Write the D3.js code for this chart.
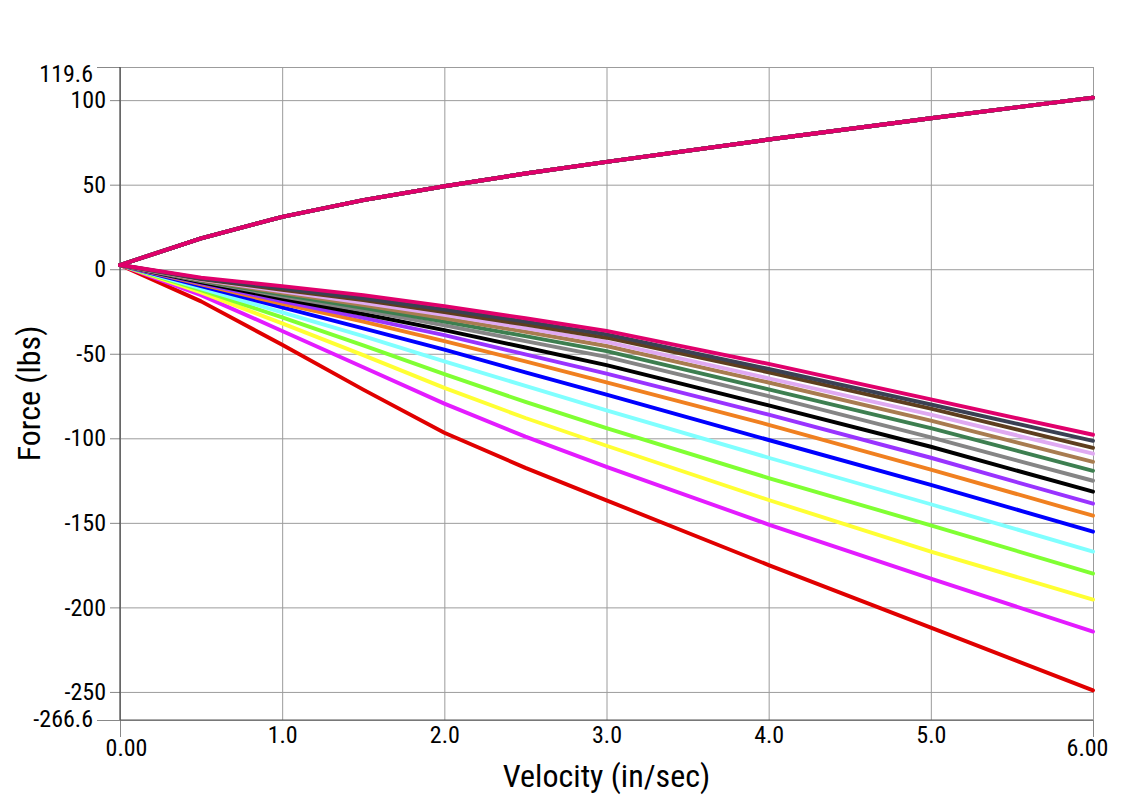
<!DOCTYPE html>
<html>
<head>
<meta charset="utf-8">
<script src="https://cdnjs.cloudflare.com/ajax/libs/d3/7.8.5/d3.min.js"></script>
<style>
  body { margin: 0; background: #fff; }
  svg { display: block; font-family: "Liberation Sans Narrow", "Roboto Condensed", "Liberation Sans", Arial, sans-serif; }
  .grid line { stroke: #9c9c9c; stroke-width: 1; }
  .grid .domain { display: none; }
</style>
</head>
<body>
<svg id="chart" width="1121" height="800"></svg>
<script>
// velocity samples (in/sec)
var velocity = [0, 0.5, 1, 1.5, 2, 2.5, 3, 4, 5, 6];

// rebound side, shared by every valving
var reboundForce = [2.5, 18.2, 31, 40.9, 49.1, 56.6, 63.5, 76.7, 89.3, 101.5];

// compression side, one array per valving (stiffest first)
var compRed     = [2.5, -19, -44.7, -71.2, -96.7, -117.5, -136.7, -175, -212, -249.1];
var compMagenta = [2.5, -15.3, -36.5, -58, -79.5, -99, -116.9, -151, -183, -214.3];
var compYellow  = [2.5, -13.7, -32, -50.8, -70.2, -88, -104.4, -136.5, -167, -195.4];
var compGreen   = [2.5, -12.4, -28.5, -45, -62, -78.5, -94, -123.5, -151.5, -180];
var compCyan    = [2.5, -11.4, -25.5, -39.6, -54.5, -69, -83.5, -111.5, -139, -167];
var compBlue    = [2.5, -10, -22.5, -35, -47.6, -61, -74.2, -101, -127.5, -155.2];
var compOrange  = [2.5, -9, -20.5, -31, -42.5, -54.5, -66.9, -92, -118.5, -145.8];
var compPurple  = [2.5, -8.4, -19, -28.8, -39, -50.3, -61.7, -86, -111.5, -138.7];
var compBlack   = [2.5, -7.8, -17.5, -26.5, -36, -46.3, -56.7, -80.5, -105, -131.6];
var compGray    = [2.5, -7, -16, -24.3, -33.2, -42.5, -51.8, -75, -99.5, -125.1];
var compDkGreen = [2.5, -6.7, -15, -22.8, -31, -39.6, -48.4, -71, -94, -119.2];
var compTan     = [2.5, -6.4, -14, -21.2, -29, -37, -45.4, -67, -89.5, -113.9];
var compViolet  = [2.5, -6.1, -13.1, -19.8, -27, -34.8, -43, -64.5, -86, -109.1];
var compBrown   = [2.5, -5.8, -12.2, -18.3, -25.3, -32.8, -40.5, -61, -82.5, -105.6];
var compSlate   = [2.5, -5.5, -11.3, -17.2, -23.8, -31, -38.5, -59, -80, -101.5];
var compPink    = [2.5, -5, -10, -15.3, -21.8, -29, -36.5, -56, -77, -97.9];

var compressionSeries = [compRed, compMagenta, compYellow, compGreen, compCyan, compBlue,
    compOrange, compPurple, compBlack, compGray, compDkGreen, compTan, compViolet,
    compBrown, compSlate, compPink];
var seriesColors = ["#e00000", "#e31cff", "#ffff33", "#80ff33", "#80ffff", "#0000ff",
    "#f08020", "#9933ff", "#000000", "#858585", "#3d7f50", "#a87c50", "#e0aaf2",
    "#5e3e1e", "#3a4052", "#e0006b"];

// axis ticks
var forceTicks = [-266.6, -250, -200, -150, -100, -50, 0, 50, 100, 119.6];
var velocityTicks = [0, 1, 2, 3, 4, 5, 6];
var velocityLabels = ["0.00", "1.0", "2.0", "3.0", "4.0", "5.0", "6.00"];

var margin = { top: 67, right: 28, bottom: 80, left: 120 },
    width = 1121 - margin.left - margin.right,
    height = 800 - margin.top - margin.bottom;

var svg = d3.select("#chart");
var g = svg.append("g").attr("transform", "translate(" + margin.left + "," + margin.top + ")");

var x = d3.scaleLinear().domain([0, 6]).range([0, width]);
var y = d3.scaleLinear().domain([-266.6, 119.6]).range([height, 0]);

// gridlines
g.append("g").attr("class", "grid")
    .call(d3.axisLeft(y).tickValues(forceTicks).tickSize(-width).tickFormat(""));
g.append("g").attr("class", "grid")
    .call(d3.axisBottom(x).tickValues(velocityTicks).tickSize(height).tickFormat(""));

// y axis labels + ticks
var yAxis = g.append("g")
    .call(d3.axisLeft(y).tickValues(forceTicks).tickSize(10).tickPadding(4)
        .tickFormat(function (d) { return String(d); }))
    .attr("font-family", null);
yAxis.select(".domain").remove();
yAxis.selectAll(".tick line").attr("stroke", "#888");
yAxis.selectAll(".tick text").attr("font-size", 24).attr("fill", "#000");
yAxis.selectAll(".tick").filter(function (d) { return d === 119.6 || d === -266.6; })
    .each(function (d) {
        var t = d3.select(this);
        t.select("line").attr("x2", -23);
        t.select("text").attr("x", -27).attr("dy", d === 119.6 ? "0.62em" : "0.28em");
    });

// x axis labels + ticks
var xAxis = g.append("g")
    .attr("transform", "translate(0," + height + ")")
    .call(d3.axisBottom(x).tickValues(velocityTicks).tickSize(0).tickPadding(6)
        .tickFormat(function (d, i) { return velocityLabels[i]; }))
    .attr("font-family", null);
xAxis.select(".domain").remove();
xAxis.selectAll(".tick text").attr("font-size", 24).attr("fill", "#000");
xAxis.selectAll(".tick").filter(function (d) { return d === 0 || d === 6; })
    .each(function (d) {
        var t = d3.select(this);
        t.select("line").attr("y2", 17).attr("stroke", "#888");
        t.select("text").attr("y", 19).attr("dx", d === 0 ? 6 : -6);
    });

// main axis lines
g.append("line").attr("x1", 0).attr("x2", 0).attr("y1", 0).attr("y2", height)
    .attr("stroke", "#444").attr("stroke-width", 1.2);
g.append("line").attr("x1", 0).attr("x2", width).attr("y1", height).attr("y2", height)
    .attr("stroke", "#555").attr("stroke-width", 1.2);

// curves
var line = d3.line()
    .x(function (d, i) { return x(velocity[i]); })
    .y(function (d) { return y(d); });

var curves = g.append("g").attr("fill", "none").attr("stroke-width", 3.9)
    .attr("stroke-linejoin", "round").attr("stroke-linecap", "round");

compressionSeries.forEach(function (series, i) {
    curves.append("path").datum(series).attr("d", line).attr("stroke", seriesColors[i]);
    curves.append("path").datum(reboundForce).attr("d", line).attr("stroke", seriesColors[i]);
});

// axis titles
svg.append("text")
    .attr("x", margin.left + width / 2).attr("y", 787)
    .attr("text-anchor", "middle").attr("font-size", 32)
    .text("Velocity (in/sec)");
svg.append("text")
    .attr("transform", "translate(40," + (margin.top + height / 2) + ") rotate(-90)")
    .attr("text-anchor", "middle").attr("font-size", 32)
    .text("Force (lbs)");
</script>
</body>
</html>
